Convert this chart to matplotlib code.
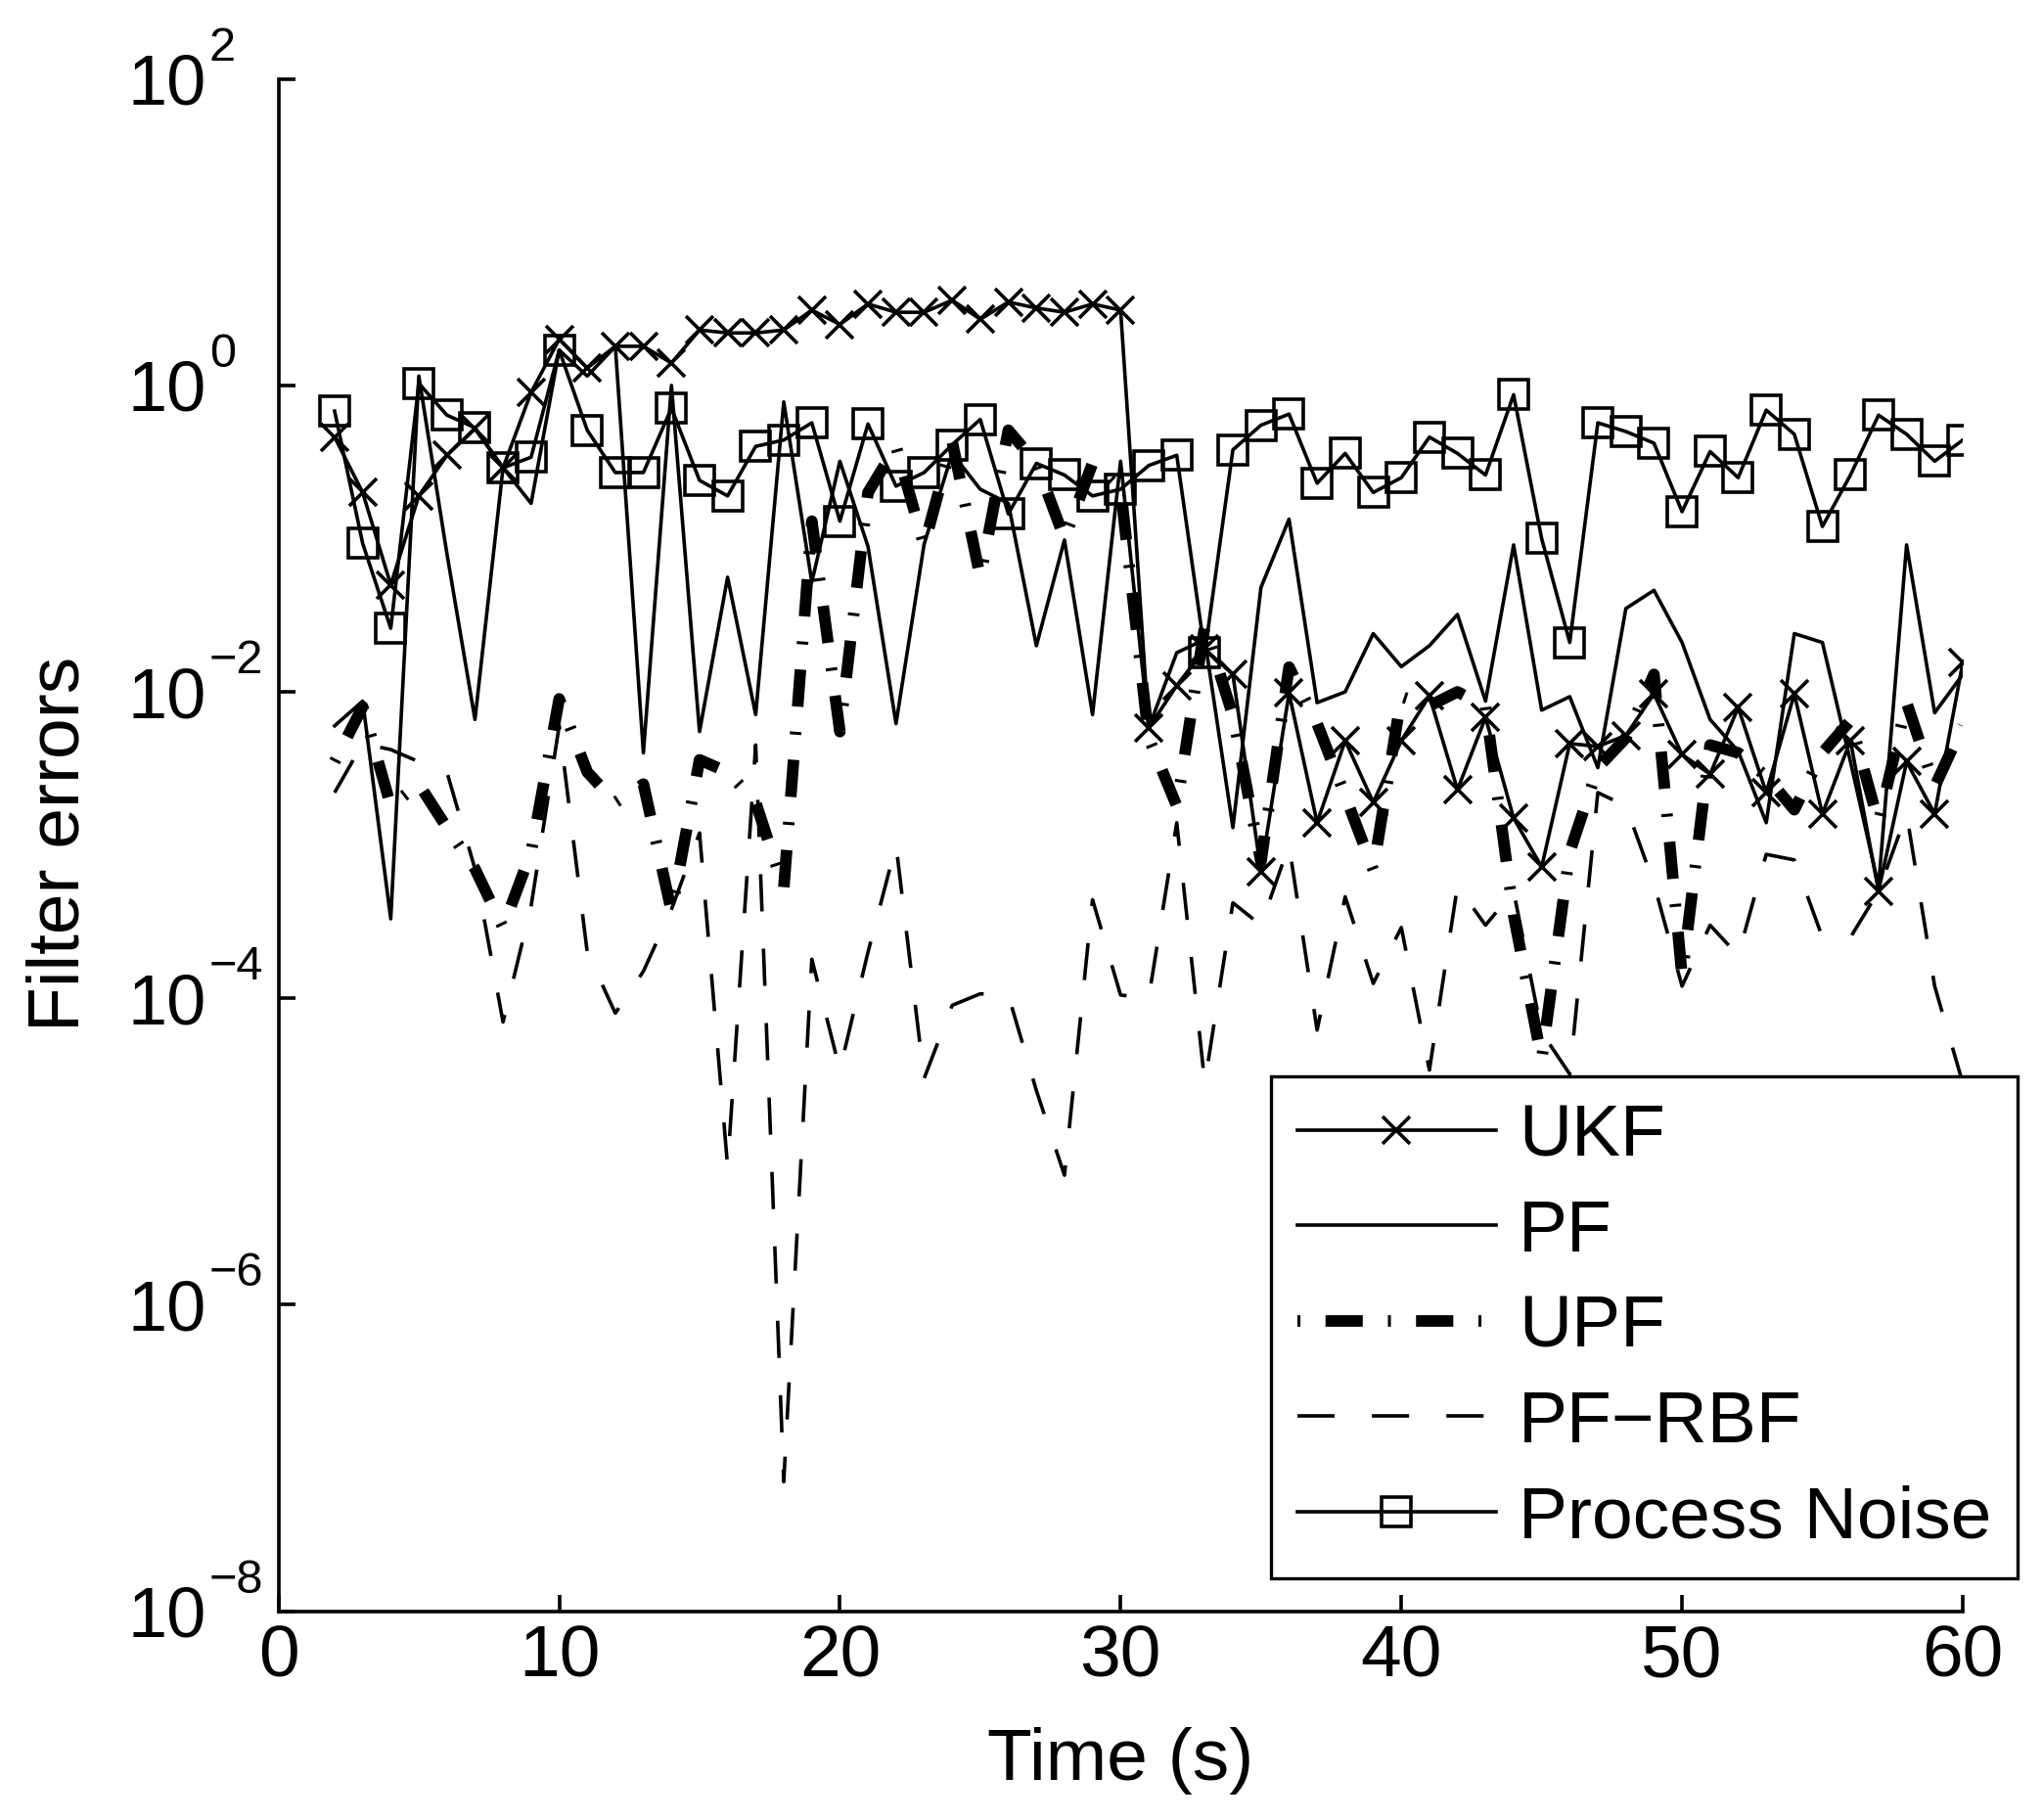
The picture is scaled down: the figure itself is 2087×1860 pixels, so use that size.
import matplotlib
matplotlib.use('Agg')
import matplotlib.pyplot as plt

plt.rcParams['font.family'] = ['Liberation Sans', 'DejaVu Sans']
plt.rcParams['lines.scale_dashes'] = False

# ---------------- data ----------------
time = list(range(2, 61))

ukf = [0.46, 0.20, 0.05, 0.19, 0.35, 0.52, 0.29, 0.9, 2.0, 1.3,
       1.8, 1.8, 1.4, 2.3, 2.2, 2.2, 2.3, 3.1, 2.5, 3.4,
       3.0, 3.0, 3.6, 2.7, 3.5, 3.2, 3.0, 3.4, 3.1, 0.0058,
       0.011, 0.019, 0.013, 6.7e-4, 0.0098, 0.0014, 0.0048, 0.0019, 0.0048, 0.0094,
       0.0023, 0.0068, 0.0015, 7.2e-4, 0.0046, 0.0044, 0.0052, 0.0097, 0.0039, 0.0029,
       0.0079, 0.0022, 0.0097, 0.0016, 0.0048, 5e-4, 0.0035, 0.0016, 0.0155]

pf = [0.006, 0.0087, 3.3e-4, 1.15, 0.08, 0.0066, 0.29, 0.17, 1.7, 1.15,
      1.8, 0.004, 1.0, 0.0055, 0.056, 0.0071, 0.78, 0.052, 0.32, 0.089,
      0.0062, 0.092, 0.36, 0.21, 0.17, 0.020, 0.098, 0.0071, 0.32, 0.0058,
      0.018, 0.022, 0.0013, 0.048, 0.134, 0.0085, 0.010, 0.024, 0.0146, 0.020,
      0.032, 0.0087, 0.091, 0.0076, 0.0093, 0.0032, 0.035, 0.046, 0.021, 0.0066,
      0.0041, 0.0014, 0.024, 0.021, 0.0035, 5.4e-4, 0.091, 0.0073, 0.013]

upf = [0.0035, 0.008, 0.0018, 0.0025, 0.0013, 7e-4, 2.9e-4, 9e-4, 0.009, 0.003,
       0.0019, 0.0025, 3.7e-4, 0.0036, 0.003, 0.0019, 5.2e-4, 0.13, 0.0055, 0.20,
       0.40, 0.09, 0.43, 0.056, 0.51, 0.31, 0.10, 0.31, 0.21, 0.005,
       0.0018, 0.027, 0.007, 7.8e-4, 0.0145, 0.0062, 0.0021, 6.9e-4, 0.0093, 0.0081,
       0.010, 0.008, 3.5e-4, 4e-5, 9e-4, 0.0032, 0.005, 0.013, 1.4e-4, 0.0045,
       0.004, 0.0028, 0.0017, 0.004, 0.0065, 0.0014, 0.0085, 0.0024, 0.006]

pf_rbf = [0.0022, 0.0046, 0.0042, 0.0035, 0.003, 7e-4, 7e-5, 4e-4, 0.006, 2e-4,
          8e-5, 1.5e-4, 3.8e-4, 0.0012, 8e-6, 0.0045, 7e-8, 1.8e-4, 3.4e-5, 2e-4,
          0.001, 3e-5, 9e-5, 1.07e-4, 1.05e-4, 2.5e-5, 7e-6, 4.4e-4, 1.05e-4, 1e-4,
          0.0014, 2.8e-5, 4.2e-4, 3e-4, 0.001, 6.2e-5, 4.6e-4, 1.25e-4, 2.9e-4, 3.4e-5,
          5.4e-4, 3e-4, 5e-4, 6e-5, 3.2e-5, 0.0022, 0.0018, 5.6e-4, 1.2e-4, 3e-4,
          1.9e-4, 8.7e-4, 8e-4, 2.5e-4, 2.5e-4, 5e-4, 0.0016, 1.2e-4, 2.8e-5]

process_noise = [0.68, 0.093, 0.026, 1.03, 0.64, 0.53, 0.29, 0.34, 1.7, 0.51,
                 0.27, 0.27, 0.71, 0.24, 0.19, 0.40, 0.44, 0.57, 0.13, 0.56,
                 0.22, 0.27, 0.41, 0.60, 0.145, 0.31, 0.26, 0.19, 0.21, 0.30,
                 0.35, 0.018, 0.38, 0.55, 0.65, 0.23, 0.36, 0.20, 0.25, 0.46,
                 0.36, 0.26, 0.87, 0.10, 0.021, 0.57, 0.50, 0.42, 0.15, 0.37,
                 0.25, 0.69, 0.48, 0.12, 0.26, 0.64, 0.48, 0.32, 0.44]

series_labels = ['UKF', 'PF', 'UPF', 'PF\u2212RBF', 'Process Noise']
x_ticks = [0, 10, 20, 30, 40, 50, 60]
y_ticks = [1e-8, 1e-6, 1e-4, 1e-2, 1e0, 1e2]
y_tick_base = '10'
y_tick_exponents = ['\u22128', '\u22126', '\u22124', '\u22122', '0', '2']

# ---------------- figure ----------------
W, H = 2087, 1860
fig = plt.figure(figsize=(W / 100, H / 100), dpi=100)
ax_left, ax_right, ax_top, ax_bottom = 284.6, 2006.0, 80.7, 1646.6
ax = fig.add_axes([ax_left / W, 1 - ax_bottom / H,
                   (ax_right - ax_left) / W, (ax_bottom - ax_top) / H])

lw = 2.6
ax.plot(time, ukf, color='k', lw=lw, marker='x', ms=19.5, mew=lw,
        label=series_labels[0])
ax.plot(time, pf, color='k', lw=lw, label=series_labels[1])
ax.plot(time, upf, color='k', lw=8.5,
        linestyle=(45.9, (27.4, 18.5, 2.2, 18.5)), label=series_labels[2])
ax.plot(time, pf_rbf, color='k', lw=lw, linestyle=(0, (27.4, 27.4)),
        label=series_labels[3])
ax.plot(time, process_noise, color='k', lw=lw, marker='s', ms=22.3, mew=lw,
        mfc='none', label=series_labels[4])

ax.set_yscale('log')
ax.set_xlim(0, 60)
ax.set_ylim(1e-8, 1e2)
ax.minorticks_off()

for s in ['top', 'right']:
    ax.spines[s].set_visible(False)
for s in ['left', 'bottom']:
    ax.spines[s].set_linewidth(2.6)

ax.set_xticks(x_ticks)
ax.set_xticklabels([str(v) for v in x_ticks], fontsize=54)
ax.set_yticks(y_ticks)
ax.set_yticklabels([y_tick_base] * len(y_ticks), fontsize=52, ha='left')
ax.tick_params(axis='x', direction='in', length=12, width=2.6, pad=9,
               top=False)
ax.tick_params(axis='y', direction='in', length=12, width=2.6,
               pad=(ax_left - 130) * 0.72, right=False)

# superscript exponents of the y tick labels
for val, ex in zip(y_ticks, y_tick_exponents):
    ax.annotate(ex, xy=(0, val), xycoords=ax.get_yaxis_transform(),
                xytext=((214 - ax_left) * 0.72, 13.7),
                textcoords='offset points', ha='left', va='baseline',
                fontsize=35, annotation_clip=False)

ax.set_xlabel('Time (s)', fontsize=54)
ax.set_ylabel('Filter errors', fontsize=54)
ax.xaxis.set_label_coords(0.5, -0.0756)
ax.yaxis.set_label_coords(-0.1096, 0.5007)

leg = ax.legend(loc='upper left', bbox_to_anchor=(1299 / W, 1 - 1100 / H),
                bbox_transform=fig.transFigure, borderaxespad=0,
                frameon=True, fancybox=False, edgecolor='k', framealpha=1,
                fontsize=54, handlelength=2.7, handletextpad=0.31,
                labelspacing=0.38, borderpad=0.36, numpoints=1)
leg.get_frame().set_linewidth(2.4)

fig.savefig('out.png', dpi=100, facecolor='white')
